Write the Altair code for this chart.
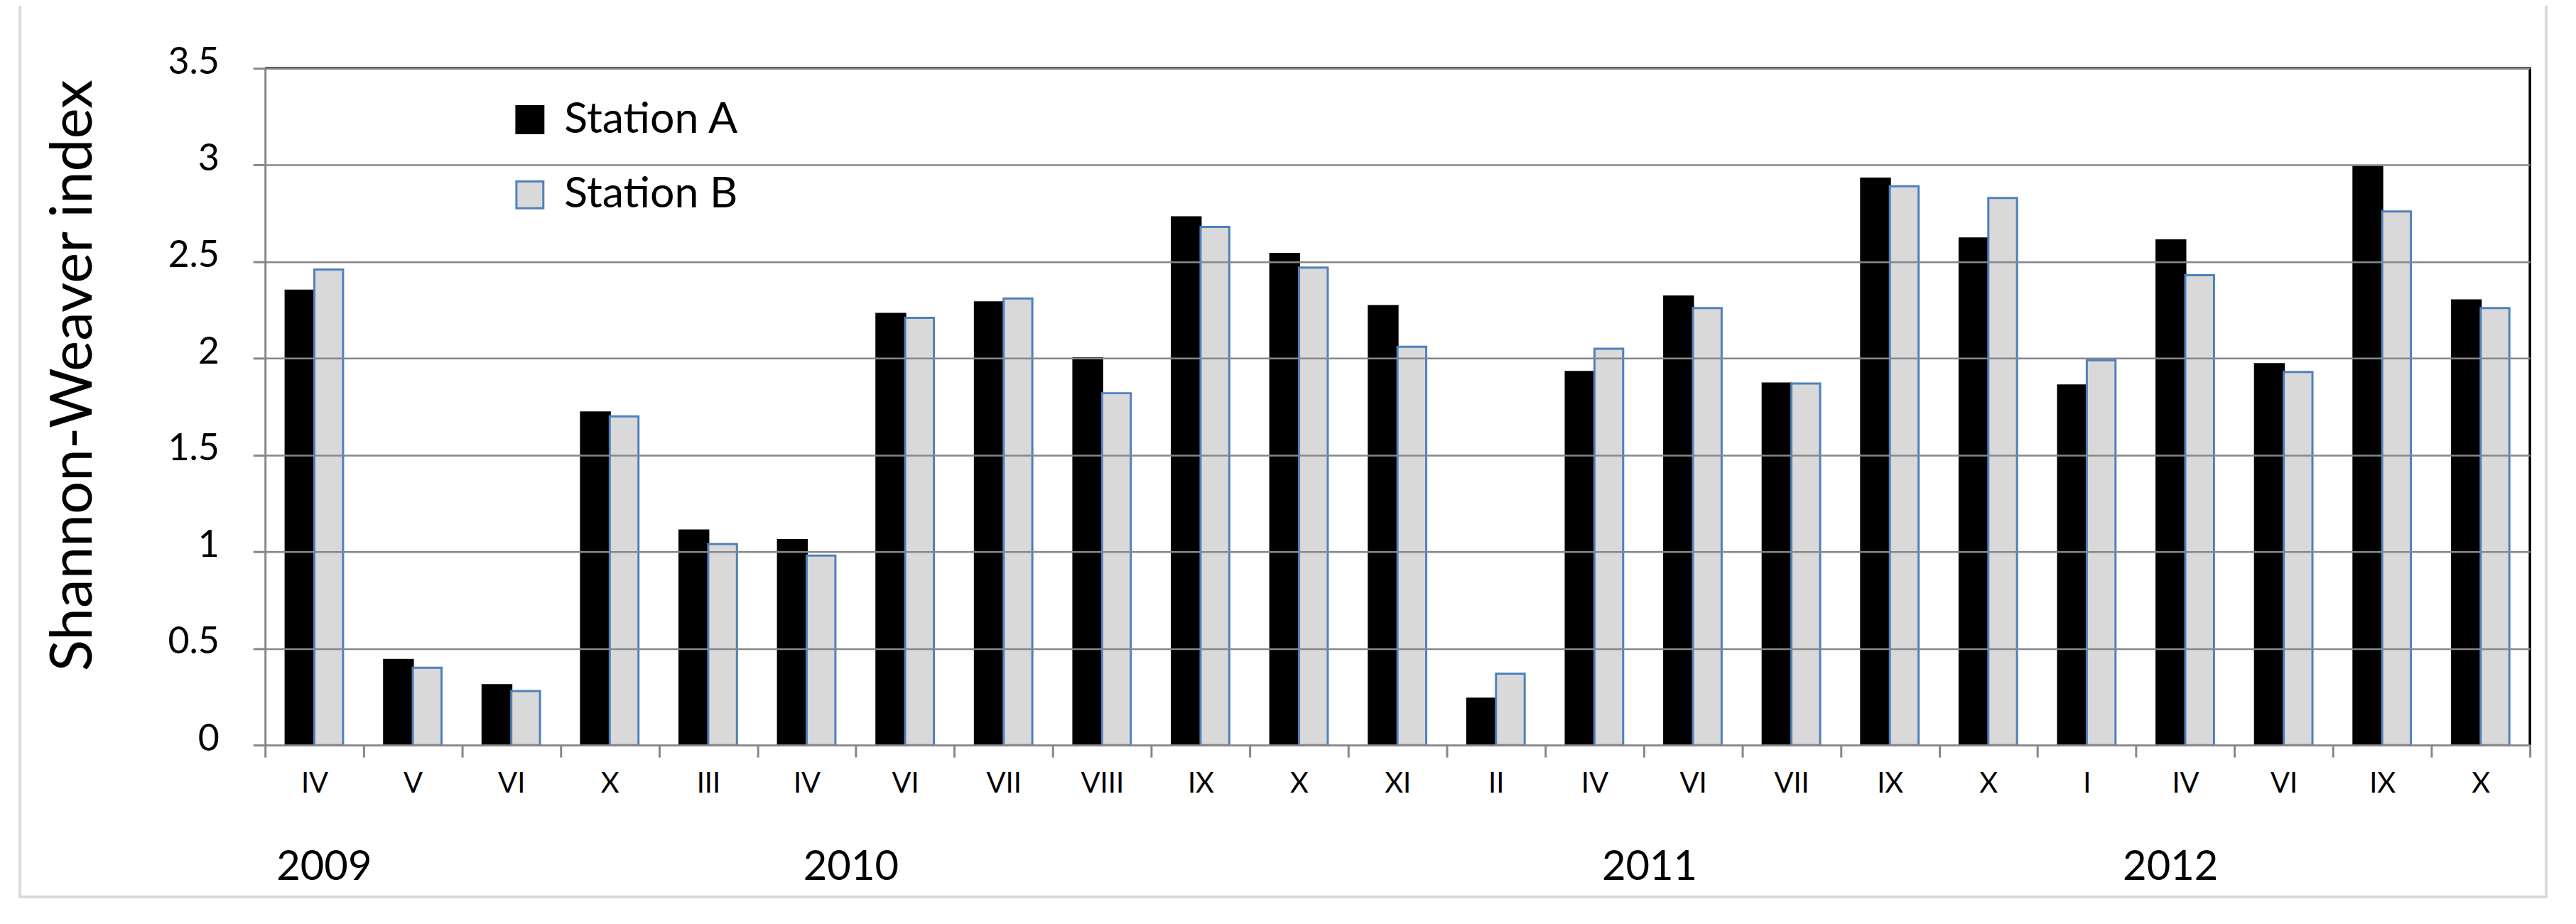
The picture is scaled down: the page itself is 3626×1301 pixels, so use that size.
import altair as alt
import pandas as pd

# ---- data ----
months = ["IV", "V", "VI", "X",
          "III", "IV", "VI", "VII", "VIII", "IX", "X", "XI",
          "II", "IV", "VI", "VII", "IX", "X",
          "I", "IV", "VI", "IX", "X"]
years = ["2009"] * 4 + ["2010"] * 8 + ["2011"] * 6 + ["2012"] * 5
station_a = [2.35, 0.44, 0.31, 1.72,
             1.11, 1.06, 2.23, 2.29, 2.00, 2.73, 2.54, 2.27,
             0.24, 1.93, 2.32, 1.87, 2.93, 2.62,
             1.86, 2.61, 1.97, 2.99, 2.30]
station_b = [2.46, 0.40, 0.28, 1.70,
             1.04, 0.98, 2.21, 2.31, 1.82, 2.68, 2.47, 2.06,
             0.37, 2.05, 2.26, 1.87, 2.89, 2.83,
             1.99, 2.43, 1.93, 2.76, 2.26]
stations = ["Station A", "Station B"]
year_labels = ["2009", "2010", "2011", "2012"]
# where each year caption sits, in category units along the x axis
year_label_at = [0.6, 5.95, 14.06, 19.35]
y_ticks = [0, 0.5, 1, 1.5, 2, 2.5, 3, 3.5]

keys = [f"{y}-{m}" for y, m in zip(years, months)]
rows = []
for k, a, b in zip(keys, station_a, station_b):
    rows.append({"key": k, "station": stations[0], "value": a})
    rows.append({"key": k, "station": stations[1], "value": b})
df = pd.DataFrame(rows)
ydf = pd.DataFrame({"year": year_labels, "pos": year_label_at})

FONT = "Lato"
GREY = "#878787"
W, H = 3195, 955

legend_cfg = alt.Legend(
    title=None, orient="none", legendX=343, legendY=42,
    symbolType="square", symbolSize=1444, symbolStrokeWidth=3,
    labelFont=FONT, labelFontSize=61, labelColor="black", labelLimit=0,
    labelOffset=18, rowPadding=44, padding=0,
)

bars = alt.Chart(df).mark_bar(strokeWidth=3).encode(
    x=alt.X("key:N", sort=keys,
            scale=alt.Scale(paddingInner=0, paddingOuter=0),
            axis=alt.Axis(title=None, labelExpr="split(datum.label, '-')[1]",
                          labelAngle=0, labelFont=FONT, labelFontSize=40,
                          labelColor="black", labelPadding=18,
                          tickBand="extent", tickSize=17, tickWidth=3,
                          tickColor=GREY, domainColor=GREY, domainWidth=3,
                          grid=False, zindex=1)),
    xOffset=alt.XOffset("station:N", sort=stations,
                        scale=alt.Scale(paddingInner=0, paddingOuter=0.715)),
    y=alt.Y("value:Q",
            scale=alt.Scale(domain=[0, 3.5], nice=False),
            axis=alt.Axis(title="Shannon-Weaver index", values=y_ticks, format="~g",
                          labelFont=FONT, labelFontSize=52, labelColor="black",
                          labelPadding=48, labelOffset=-9,
                          tickSize=17, tickWidth=3, tickColor=GREY,
                          domainColor=GREY, domainWidth=3,
                          gridColor=GREY, gridWidth=2.5,
                          titleFont=FONT, titleFontSize=82, titleFontWeight="normal",
                          titleColor="black", titleX=-270, titleY=433,
                          titleAlign="center", titleBaseline="middle",
                          titleAngle=270, zindex=1)),
    fill=alt.Fill("station:N", sort=stations,
                  scale=alt.Scale(domain=stations, range=["#000000", "#D9D9D9"]),
                  legend=legend_cfg),
    stroke=alt.Stroke("station:N", sort=stations,
                      scale=alt.Scale(domain=stations, range=["#000000", "#4F81BD"]),
                      legend=legend_cfg),
)

year_text = alt.Chart(ydf).mark_text(
    font=FONT, fontSize=58, color="black", align="center", baseline="alphabetic"
).encode(
    x=alt.X("pos:Q", scale=alt.Scale(domain=[0, len(keys)], nice=False, zero=True), axis=None),
    y=alt.value(1145),
    text="year:N",
)

one = pd.DataFrame({"f": [0]})
frame = alt.Chart(one).mark_rect(
    fillOpacity=0, stroke="#D9D9D9", strokeWidth=4
).encode(
    x=alt.value(-346), x2=alt.value(W + 23),
    y=alt.value(-300), y2=alt.value(1169),
)
top_border = alt.Chart(one).mark_rule(color="black", strokeWidth=3.5).encode(
    x=alt.value(0), x2=alt.value(W + 1.5), y=alt.value(0)
)
right_border = alt.Chart(one).mark_rule(color="black", strokeWidth=3.5).encode(
    x=alt.value(W), y=alt.value(0), y2=alt.value(H)
)

chart = alt.layer(bars, year_text, frame, top_border, right_border).resolve_scale(
    x="independent"
).resolve_axis(x="independent").properties(
    width=W, height=H,
    autosize=alt.AutoSizeParams(type="none"),
    padding={"left": 366, "top": 87, "right": 57, "bottom": 251},
).configure_view(
    stroke=None
).configure(background="white")

chart.save("out.html", embed_options={"renderer": "svg", "actions": False})
